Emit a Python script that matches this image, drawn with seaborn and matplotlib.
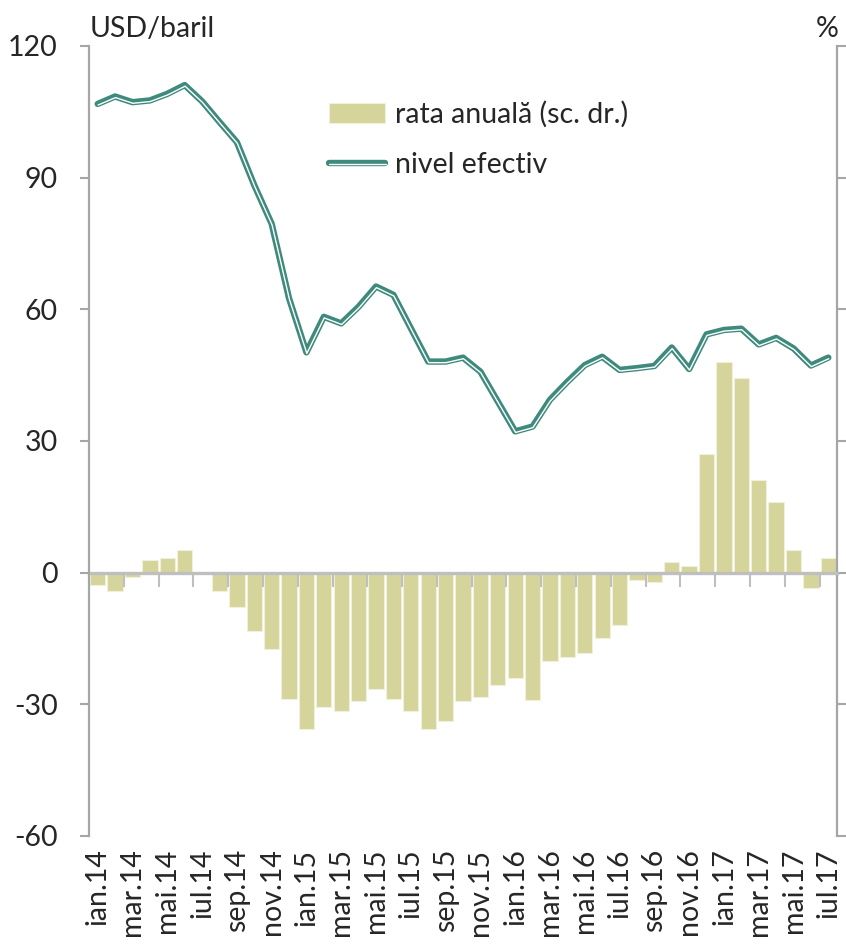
import matplotlib
matplotlib.use("Agg")
import matplotlib.pyplot as plt
import matplotlib.patheffects as pe
import seaborn as sns
import numpy as np
import pandas as pd

# luni: ian.14 ... iul.17
luni_ro = ['ian', 'feb', 'mar', 'apr', 'mai', 'iun', 'iul', 'aug', 'sep', 'oct', 'nov', 'dec']
ani = ['14', '15', '16', '17']
luni = [f"{l}.{a}" for a in ani for l in luni_ro][:43]

# nivel efectiv (USD/baril)
nivel = [106.8, 108.5, 107.2, 107.6, 109.1, 111.1, 107.4, 102.7, 98.1, 88.3,
         79.5, 62.5, 50.2, 58.3, 56.8, 60.6, 65.2, 63.3, 55.7, 48.1,
         48.1, 49.0, 45.8, 39.0, 32.2, 33.3, 39.4, 43.5, 47.3, 49.2,
         46.2, 46.6, 47.1, 51.3, 46.4, 54.3, 55.3, 55.6, 52.0, 53.5,
         51.1, 47.2, 49.0]

# rata anuala (%), scala dreapta
rata = [-2.8, -4.2, -1.1, 3.0, 3.4, 5.2, 0.0, -4.2, -7.9, -13.3,
        -17.4, -28.8, -35.6, -30.6, -31.5, -29.2, -26.5, -28.8, -31.5, -35.6,
        -33.9, -29.3, -28.4, -25.7, -23.9, -28.9, -20.2, -19.3, -18.4, -14.8,
        -12.0, -1.6, -2.1, 2.5, 1.5, 27.0, 48.0, 44.3, 21.0, 16.1,
        5.1, -3.5, 3.4]

y_ticks = [-60, -30, 0, 30, 60, 90, 120]

TEAL = '#3E8A7D'
KHAKI = '#D5D49A'
GRI = '#A6A6A6'
GRI_ZERO = '#BFBFBF'
FS = 20.5

sns.set_style("white")
plt.rcParams['font.family'] = ['Lato', 'DejaVu Sans']

df = pd.DataFrame({'luna': luni, 'nivel': nivel, 'rata': rata})
n = len(df)

fig = plt.figure(figsize=(8.46, 9.5), dpi=100)
ax = fig.add_axes([89 / 846, 1 - 836 / 950, 748 / 846, 790 / 950])
ax2 = ax.twinx()

# bare - rata anuala (sc. dr.)
sns.barplot(data=df, x='luna', y='rata', color=KHAKI, saturation=1, width=0.88,
            edgecolor='#F0F0DC', linewidth=0.8, ax=ax2, label='rata anuală (sc. dr.)')

# linie - nivel efectiv
sns.lineplot(x=np.arange(n), y=df['nivel'], ax=ax, color='white', linewidth=1.0,
             label='nivel efectiv',
             path_effects=[pe.Stroke(linewidth=4.6, foreground=TEAL),
                           pe.Stroke(linewidth=1.0, foreground='white', offset=(0.3, -0.8))])

ax.set_zorder(ax2.get_zorder() + 1)
ax.patch.set_visible(False)

for a in (ax, ax2):
    a.set_ylim(-60, 120)
    a.set_xlim(-0.5, n - 0.5)
    a.set_xlabel('')
    a.set_ylabel('')
    a.spines['top'].set_visible(False)
    a.spines['bottom'].set_visible(False)

ax.spines['right'].set_visible(False)
ax.spines['left'].set_color(GRI)
ax.spines['left'].set_linewidth(1.6)
ax2.spines['left'].set_visible(False)
ax2.spines['right'].set_color(GRI)
ax2.spines['right'].set_linewidth(1.6)

ax.set_yticks(y_ticks)
ax.set_yticklabels([str(v) for v in y_ticks])
ax.tick_params(axis='y', direction='out', length=6.5, width=1.5, color=GRI,
               pad=16, labelsize=FS, left=True)
ax2.set_yticks(y_ticks)
ax2.tick_params(axis='y', direction='out', length=6.5, width=1.5, color=GRI,
                labelright=False, right=True)

ax.set_xticks(np.arange(0, n, 2))
ax.set_xticklabels(luni[::2], rotation=90)
ax.tick_params(axis='x', length=0, pad=9, labelsize=FS, bottom=True)

# axa orizontala la zero, cu gradatii intre luni
sec = ax2.secondary_xaxis(0, transform=ax2.transData)
sec.set_xticks(np.arange(1.5, n - 1, 2))
sec.tick_params(axis='x', direction='out', length=10, width=1.5, color=GRI_ZERO,
                labelbottom=False)
sec.spines['bottom'].set_color(GRI_ZERO)
sec.spines['bottom'].set_linewidth(2.4)
sec.set_zorder(5)

# legenda
h1, l1 = ax2.get_legend_handles_labels()
h2, l2 = ax.get_legend_handles_labels()
if ax2.get_legend():
    ax2.get_legend().remove()
ax.legend(h1 + h2, l1 + l2, loc='upper left', bbox_to_anchor=(0.305, 0.945),
          frameon=False, fontsize=FS, handlelength=2.0, handleheight=0.7,
          handletextpad=0.35, labelspacing=0.85, borderaxespad=0)

fig.text(90 / 846, 1 - 37 / 950, 'USD/baril', fontsize=FS, ha='left', va='baseline')
fig.text(839 / 846, 1 - 37 / 950, '%', fontsize=FS, ha='right', va='baseline')

fig.savefig('out.png', dpi=100)
plt.close(fig)
